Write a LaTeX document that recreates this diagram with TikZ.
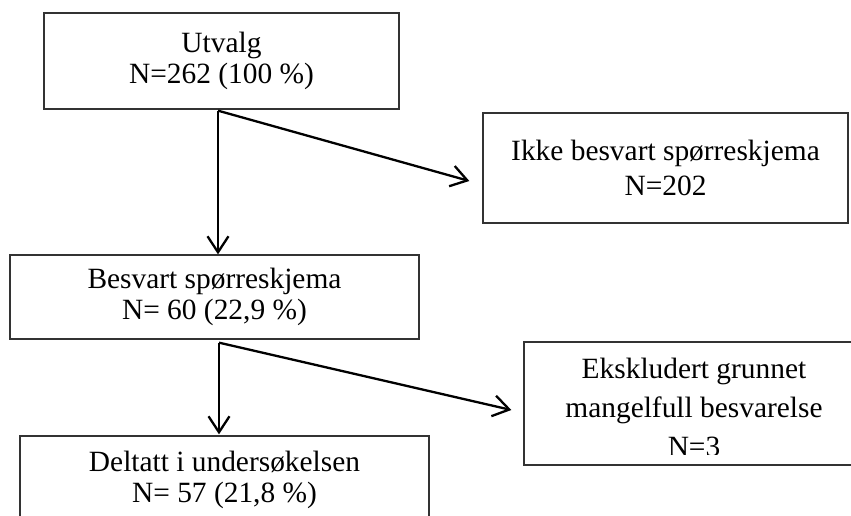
\documentclass[tikz,border=0pt]{standalone}
\usepackage{fontspec}
\setmainfont{Liberation Serif}
\usetikzlibrary{arrows.meta,calc}
\begin{document}
\begin{tikzpicture}[x=1pt,y=-1pt,
  box/.style={draw=black!80, line width=1.3pt, rectangle, inner sep=0pt, align=center,
    font=\fontsize{29.4}{31}\selectfont},
  txt/.style={inner sep=0pt, align=center, font=\fontsize{29.4}{39}\selectfont},
  arr/.style={line width=2.3pt, -{Straight Barb[length=16pt,width=21pt]}}]
\useasboundingbox (0,0) rectangle (851,516);

\node[box, minimum width=355pt, minimum height=96pt] (utv) at (221.5,61) {Utvalg\\N=262 (100 \%)};
\node[box, minimum width=365pt, minimum height=110pt] (ikke) at (665.5,168) {Ikke besvart spørreskjema\\[4pt]N=202};
\node[box, minimum width=409pt, minimum height=84pt] (bes) at (214.5,297) {Besvart spørreskjema\\N= 60 (22,9 \%)};
\node[box, minimum width=409pt, minimum height=88pt] (del) at (224.5,480) {Deltatt i undersøkelsen\\N= 57 (21,8 \%)};
\node[box, minimum width=340pt, minimum height=123pt] (eks) at (694,403.5) {};
\begin{scope}
  \clip (0,0) rectangle (851,454);
  \node[txt] (ekstxt) at (694,407.5) {Ekskludert grunnet\\mangelfull besvarelse\\N=3};
\end{scope}

\coordinate (a1) at ($(utv.south)+(-3.5,1)$);
\coordinate (a2) at ($(bes.south)+(4.5,3)$);
\draw[arr] (a1) -- (a1 |- bes.north);
\draw[arr] (a1) -- ($(ikke.west)+(-13,13)$);
\draw[arr] (a2) -- ($(a2 |- del.north)+(0,-1)$);
\draw[arr] (a2) -- ($(eks.west)+(-12,6.5)$);
\end{tikzpicture}
\end{document}
